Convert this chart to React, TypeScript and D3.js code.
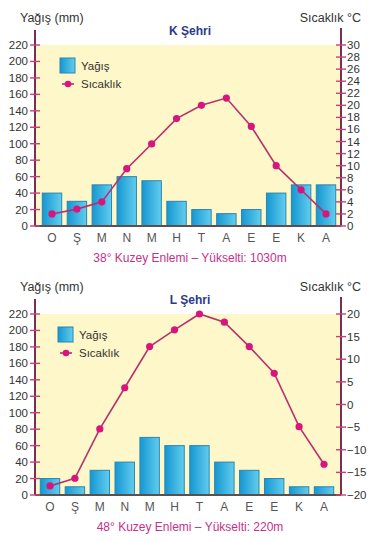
import * as d3 from "d3";

const months = ["O", "Ş", "M", "N", "M", "H", "T", "A", "E", "E", "K", "A"];

const rainK = [40, 30, 50, 60, 55, 30, 20, 15, 20, 40, 50, 50];
const tempK = [2, 2.8, 4, 9.5, 13.6, 17.8, 20, 21.2, 16.5, 10, 6, 2];

const rainL = [20, 10, 30, 40, 70, 60, 60, 40, 30, 20, 10, 10];
const tempL = [-18, -16.3, -5.4, 3.7, 12.8, 16.5, 20, 18.2, 12.8, 6.9, -4.9, -13.2];

const rainTicks = d3.range(0, 221, 20);
const tempTicksK = d3.range(0, 31, 2);
const tempTicksL = d3.range(-20, 21, 5);

const FONT = "'Liberation Sans', Arial, sans-serif";
const AXIS = "#7a2d55";
const TICK = "#c8407a";
const LINE = "#b8306e";
const DOT = "#d8157c";

interface PanelProps {
	id: string;
	top: number;
	title: string;
	subtitle: string;
	rain: number[];
	temp: number[];
	tempDomain: [number, number];
	tempTicks: number[];
	xStart: number;
}

function Panel({ id, top, title, subtitle, rain, temp, tempDomain, tempTicks, xStart }: PanelProps) {
	const left = 35;
	const right = 341;
	const plotTop = top + 15;
	const plotBottom = top + 196;

	const x = d3
		.scalePoint<number>()
		.domain(d3.range(12))
		.range([xStart, xStart + 274]);
	const barW = x.step() * 0.78;

	const yRain = d3.scaleLinear().domain([0, 220]).range([plotBottom, plotTop]);
	const yTemp = d3.scaleLinear().domain(tempDomain).range([plotBottom, plotTop]);

	const line = d3
		.line<number>()
		.x((_, i) => x(i) as number)
		.y((d) => yTemp(d));

	const fmt = (v: number) => (v < 0 ? `\u2212${Math.abs(v)}` : `${v}`);

	return (
		<g>
			<defs>
				<linearGradient id={`bar-${id}`} x1="0" x2="1" y1="0" y2="0">
					<stop offset="0" stopColor="#1597d2" />
					<stop offset="1" stopColor="#62cdee" />
				</linearGradient>
			</defs>

			{/* headings */}
			<text x={20} y={top - 8} fontSize={12.5} fill="#333" fontFamily={FONT}>
				Yağış (mm)
			</text>
			<text x={361} y={top - 8} fontSize={12.5} fill="#333" fontFamily={FONT} textAnchor="end">
				Sıcaklık °C
			</text>
			<text x={190} y={top + 5} fontSize={12} fontWeight="bold" fill="#2b3a8a" fontFamily={FONT} textAnchor="middle">
				{title}
			</text>

			{/* background */}
			<rect x={left} y={plotTop} width={right - left} height={plotBottom - plotTop} fill="#fdf7c9" />

			{/* bars */}
			{rain.map((v, i) => (
				<rect
					key={i}
					x={(x(i) as number) - barW / 2}
					y={yRain(v)}
					width={barW}
					height={plotBottom - yRain(v)}
					fill={`url(#bar-${id})`}
					stroke="#2a86b0"
					strokeWidth={1}
				/>
			))}

			{/* temperature */}
			<path d={line(temp) ?? ""} fill="none" stroke={LINE} strokeWidth={1.6} />
			{temp.map((v, i) => (
				<circle key={i} cx={x(i) as number} cy={yTemp(v)} r={3.6} fill={DOT} />
			))}

			{/* axes */}
			<line x1={left} x2={left} y1={top} y2={plotBottom} stroke={AXIS} strokeWidth={2} />
			<line x1={right} x2={right} y1={top - 2} y2={plotBottom} stroke={AXIS} strokeWidth={2} />
			<line x1={left} x2={right} y1={plotBottom} y2={plotBottom} stroke="#5a4f52" strokeWidth={2.2} />

			{rainTicks.map((t) => (
				<g key={`l${t}`}>
					<line x1={left - 5} x2={left + 5} y1={yRain(t)} y2={yRain(t)} stroke={TICK} strokeWidth={1.4} />
					<text x={28} y={yRain(t)} dy="0.35em" fontSize={11.5} fill="#333" fontFamily={FONT} textAnchor="end">
						{t}
					</text>
				</g>
			))}
			{tempTicks.map((t) => (
				<g key={`r${t}`}>
					<line x1={right - 5} x2={right + 5} y1={yTemp(t)} y2={yTemp(t)} stroke={TICK} strokeWidth={1.4} />
					<text x={347} y={yTemp(t)} dy="0.35em" fontSize={11.5} fill="#333" fontFamily={FONT}>
						{fmt(t)}
					</text>
				</g>
			))}

			{/* months */}
			{months.map((m, i) => (
				<text key={i} x={x(i) as number} y={plotBottom + 16} fontSize={12} fill="#555" fontFamily={FONT} textAnchor="middle">
					{m}
				</text>
			))}

			<text x={190} y={plotBottom + 36} fontSize={12} fill="#c4318a" fontFamily={FONT} textAnchor="middle">
				{subtitle}
			</text>

			{/* legend */}
			<rect x={xStart + 8} y={top + 28} width={15} height={15} fill={`url(#bar-${id})`} stroke="#2a86b0" />
			<text x={xStart + 29} y={top + 36} dy="0.35em" fontSize={11.5} fill="#333" fontFamily={FONT}>
				Yağış
			</text>
			<line x1={xStart + 10} x2={xStart + 22} y1={top + 54} y2={top + 54} stroke={LINE} strokeWidth={1.6} />
			<circle cx={xStart + 16} cy={top + 54} r={3.3} fill={DOT} />
			<text x={xStart + 29} y={top + 54} dy="0.35em" fontSize={11.5} fill="#333" fontFamily={FONT}>
				Sıcaklık
			</text>
		</g>
	);
}

export default function App() {
	return (
		<svg
			width={391}
			height={542}
			viewBox="0 0 391 542"
			style={{ position: "absolute", left: 0, top: 0, background: "#fff" }}
		>
			<Panel
				id="k"
				top={30}
				title="K Şehri"
				subtitle="38° Kuzey Enlemi – Yükselti: 1030m"
				rain={rainK}
				temp={tempK}
				tempDomain={[0, 30]}
				tempTicks={tempTicksK}
				xStart={52}
			/>
			<Panel
				id="l"
				top={299}
				title="L Şehri"
				subtitle="48° Kuzey Enlemi – Yükselti: 220m"
				rain={rainL}
				temp={tempL}
				tempDomain={[-20, 20]}
				tempTicks={tempTicksL}
				xStart={50}
			/>
		</svg>
	);
}
